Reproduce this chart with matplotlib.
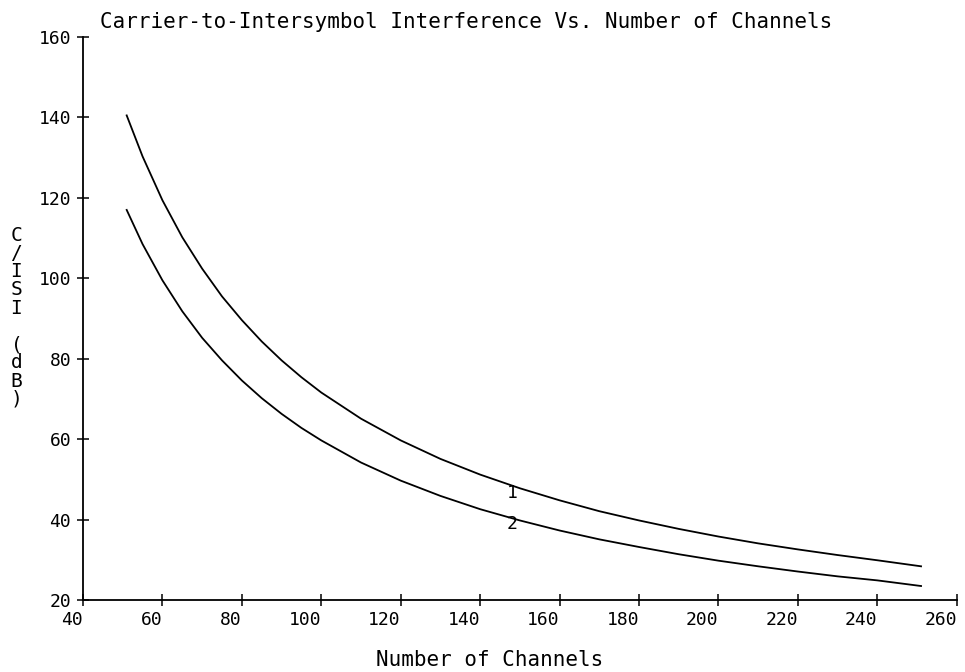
import matplotlib.pyplot as plt

# number of channels
channels = [51, 55, 60, 65, 70, 75, 80, 85, 90, 95, 100, 110, 120, 130, 140,
            150, 160, 170, 180, 190, 200, 210, 220, 230, 240, 251]
# C/ISI (dB)
cisi_1 = [140.5, 130.3, 119.4, 110.2, 102.4, 95.5, 89.6, 84.3, 79.6, 75.4, 71.6,
          65.1, 59.7, 55.1, 51.2, 47.8, 44.8, 42.1, 39.8, 37.7, 35.8, 34.1,
          32.6, 31.2, 29.9, 28.4]
cisi_2 = [117.0, 108.5, 99.5, 91.8, 85.2, 79.6, 74.6, 70.2, 66.3, 62.8, 59.7,
          54.2, 49.7, 45.9, 42.6, 39.8, 37.3, 35.1, 33.2, 31.4, 29.8, 28.4,
          27.1, 25.9, 24.9, 23.5]

curve_labels = ["1", "2"]
label_pos = [(148, 46.6), (148, 39.0)]

font = "DejaVu Sans Mono"

fig = plt.figure(figsize=(9.65, 6.72), dpi=100)
ax = fig.add_axes([0.086, 0.107, 0.9055, 0.838])

ax.plot(channels, cisi_1, color="black", lw=1.3)
ax.plot(channels, cisi_2, color="black", lw=1.3)

for lab, (x, y) in zip(curve_labels, label_pos):
    ax.text(x, y, lab, ha="center", va="center", fontsize=13, family=font)

ax.set_xlim(40, 260)
ax.set_ylim(20, 160)
ax.set_xticks(range(40, 261, 20))
ax.set_yticks(range(20, 161, 20))
ax.spines["top"].set_visible(False)
ax.spines["right"].set_visible(False)
ax.spines["left"].set_linewidth(1.3)
ax.spines["bottom"].set_linewidth(1.3)
ax.tick_params(direction="inout", length=9, width=1.1, labelsize=13)
ax.tick_params(axis="x", pad=3)
ax.tick_params(axis="y", pad=4)
for t in ax.get_xticklabels():
    t.set_family(font)
    t.set_horizontalalignment("right")
for t in ax.get_yticklabels():
    t.set_family(font)

fig.text(0.104, 0.967, "Carrier-to-Intersymbol Interference Vs. Number of Channels",
         ha="left", va="center", fontsize=15, family=font)
fig.text(0.507, 0.018, "Number of Channels", ha="center", va="center",
         fontsize=15, family=font)
fig.text(0.017, 0.528, "\n".join("C/ISI (dB)"), ha="center", va="center",
         fontsize=14, family=font, linespacing=0.95)

plt.savefig("out.png")
